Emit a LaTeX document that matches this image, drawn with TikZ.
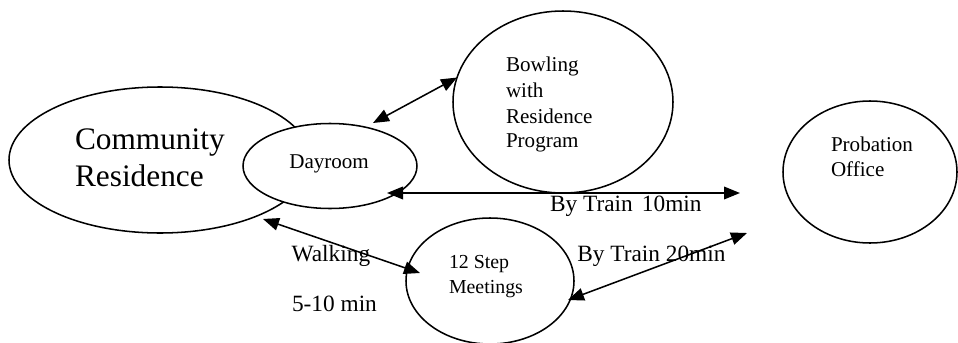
\documentclass[tikz,border=0pt]{standalone}
\usepackage{fontspec}
\setmainfont{Liberation Serif}
\usetikzlibrary{arrows.meta,shapes.geometric}
\begin{document}
\begin{tikzpicture}[x=0.75pt,y=-0.75pt,
  place/.style 2 args={draw, ellipse, line width=1.15pt, fill=white,
    inner sep=0pt, outer sep=0pt,
    minimum width=#1*1.5pt, minimum height=#2*1.5pt},
  txt/.style={anchor=base west, inner sep=0pt, outer sep=0pt},
  big/.style={txt, font=\fontsize{23.5}{28}\selectfont},
  small/.style={txt, font=\fontsize{15.8}{19}\selectfont},
  note/.style={txt, font=\fontsize{17.5}{21}\selectfont},
  link/.style={line width=1.15pt,
    arrows={Triangle[length=12pt,width=9.5pt]-Triangle[length=12pt,width=9.5pt]}}
]
\useasboundingbox (0,0) rectangle (958,343);

% places
\node[place={151}{73}] (residence) at (160,160) {};
\node[place={87}{42.5}] (dayroom) at (330,166) {};
\node[place={110}{91}] (bowling) at (563,102) {};
\node[place={87}{71}] (probation) at (870,172) {};
\node[place={84}{63}] (meetings) at (490,281) {};

% place names
\node[big] (res-a) at (75,149.3) {Community};
\node[big] (res-b) at (75,186.7) {Residence};
\node[small] (day-a) at (289.3,168.3) {Dayroom};
\node[small] (bow-a) at (506,71.7) {Bowling};
\node[small] (bow-b) at (506,97.3) {with};
\node[small] (bow-c) at (506,123.3) {Residence};
\node[small] (bow-d) at (506,147.7) {Program};
\node[small] (pro-a) at (831,151.7) {Probation};
\node[small] (pro-b) at (831,176.7) {Office};
\node[small, font=\fontsize{14.9}{18}\selectfont] (meet-a) at (449,268.3) {12 Step};
\node[small, font=\fontsize{14.9}{18}\selectfont] (meet-b) at (449,293) {Meetings};

% travel notes
\node[note] (walk-a) at (291.7,261.7) {Walking};
\node[note] (walk-b) at (292,311.7) {5-10 min};
\node[note] (train10) at (550,211.7) {By Train\hspace{2.5pt} 10min};
\node[note] (train20) at (577.3,261.7) {By Train 20min};

% connector ends
\coordinate (day-top) at (373,123);
\coordinate (day-right) at (387,193);
\coordinate (pro-left) at (740,193);
\coordinate (res-low) at (263,219);
\coordinate (meet-left) at (420,273);
\coordinate (meet-right) at (568,300);
\coordinate (pro-low) at (747,233);

% connectors
\draw[link] (day-top) -- (bowling.167);
\draw[link] (day-right) -- (pro-left);
\draw[link] (res-low) -- (meet-left);
\draw[link] (meet-right) -- (pro-low);
\end{tikzpicture}
\end{document}
